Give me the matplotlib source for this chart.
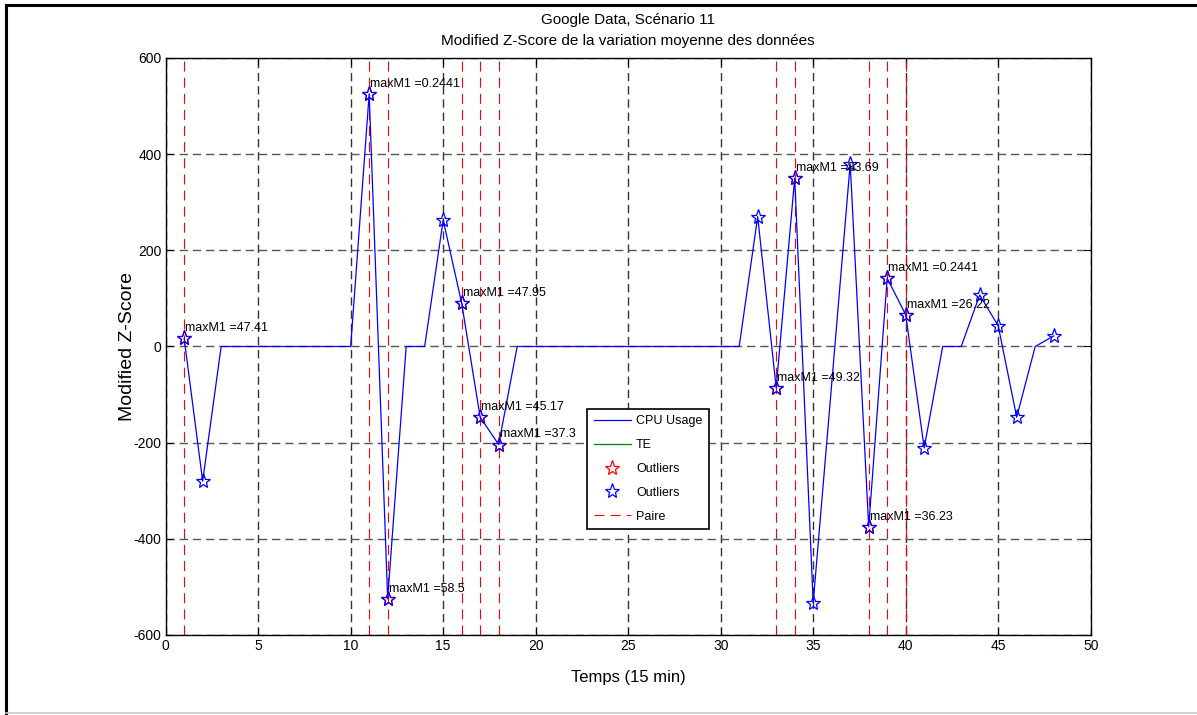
#!/usr/bin/env python3

import matplotlib
matplotlib.use('Agg')
import matplotlib.pyplot as plt
from matplotlib.lines import Line2D

plt.rcParams['font.family'] = ['Liberation Sans', 'DejaVu Sans']
plt.rcParams['axes.unicode_minus'] = False

# CPU usage modified z-score, one value per 15 min step
time_steps = list(range(1, 49))
cpu_zscore = [17, -280, 0, 0, 0, 0, 0, 0, 0, 0,
              525, -525, 0, 0, 263, 90, -147, -204, 0, 0,
              0, 0, 0, 0, 0, 0, 0, 0, 0, 0,
              0, 270, -86, 350, -533, -78, 380, -375, 142, 66,
              -211, 0, 0, 107, 43, -147, 0, 22]

# points drawn with a star
star_x = [1, 2, 11, 12, 15, 16, 17, 18, 32, 33, 34, 35, 37, 38, 39, 40, 41, 44, 45, 46, 48]

# outliers (pairs) with their maxM1 value
pair_x = [1, 11, 12, 16, 17, 18, 33, 34, 38, 39, 40]
pair_labels = ['47.41', '0.2441', '58.5', '47.95', '45.17', '37.3',
               '49.32', '83.69', '36.23', '0.2441', '26.22']

te_x = []
te_y = []


def main():
    fig = plt.figure(figsize=(11.97, 7.15), dpi=100)
    ax = fig.add_axes([0.1384, 0.1119, 0.7728, 0.807])

    lookup = dict(zip(time_steps, cpu_zscore))

    for xv in [0, 5, 10, 15, 20, 25, 30, 35, 40, 45, 50]:
        ax.axvline(xv, color='#333333', lw=1.0, dashes=(6, 3.5), zorder=1)
    for yv in [-600, -400, -200, 0, 200, 400, 600]:
        ax.axhline(yv, color='#555555', lw=1.0, dashes=(6, 3.5), zorder=1)

    cpu_line, = ax.plot(time_steps, cpu_zscore, color='blue', lw=0.9, zorder=3)
    te_line, = ax.plot(te_x, te_y, color='#007f00', lw=0.9)

    red_stars, = ax.plot(pair_x, [lookup[v] for v in pair_x], ls='none', marker='*',
                         ms=11, mfc='none', mec='red', mew=0.9, zorder=4)
    blue_stars, = ax.plot(star_x, [lookup[v] for v in star_x], ls='none', marker='*',
                          ms=11, mfc='none', mec='blue', mew=0.9, zorder=5)

    pair_line = None
    for xv in pair_x:
        pair_line = ax.axvline(xv, color='red', lw=0.8, dashes=(9, 5.5), zorder=2)

    for xv, lab in zip(pair_x, pair_labels):
        ax.text(xv + 0.05, lookup[xv] + 21, 'maxM1 =' + lab, fontsize=9,
                ha='left', va='center', zorder=6)

    ax.set_xlim(0, 50)
    ax.set_ylim(-600, 600)
    ax.set_xticks(range(0, 51, 5))
    ax.set_yticks(range(-600, 601, 200))
    ax.tick_params(direction='in', length=5, top=True, right=True, labelsize=10, pad=3)
    for sp in ax.spines.values():
        sp.set_linewidth(1.0)
        sp.set_zorder(7)

    ax.set_xlabel('Temps (15 min)', fontsize=12, labelpad=12)
    ax.set_ylabel('Modified Z-Score', fontsize=14, labelpad=-2)
    ax.set_title('Google Data, Scénario 11\nModified Z-Score de la variation moyenne des données',
                 fontsize=11, pad=9, linespacing=1.65)

    leg = ax.legend([cpu_line, te_line, red_stars, blue_stars, pair_line],
                    ['CPU Usage', 'TE', 'Outliers', 'Outliers', 'Paire'],
                    loc='upper left', bbox_to_anchor=(0.4558, 0.3917), borderaxespad=0,
                    fontsize=9, fancybox=False, framealpha=1, edgecolor='black',
                    handlelength=3.0, handletextpad=0.4, labelspacing=0.95,
                    borderpad=0.5)
    leg.get_frame().set_linewidth(1.2)
    leg.set_zorder(8)

    # outer figure frame
    fig.add_artist(Line2D([6 / 1197, 1], [1 - 5 / 715, 1 - 5 / 715], color='black', lw=2.2))
    fig.add_artist(Line2D([6 / 1197, 6 / 1197], [2 / 715, 1 - 5 / 715], color='black', lw=2.2))
    fig.add_artist(Line2D([6 / 1197, 1], [2 / 715, 2 / 715], color='#c8c8c8', lw=1.2))

    fig.savefig('out.png', dpi=100)


if __name__ == '__main__':
    main()
